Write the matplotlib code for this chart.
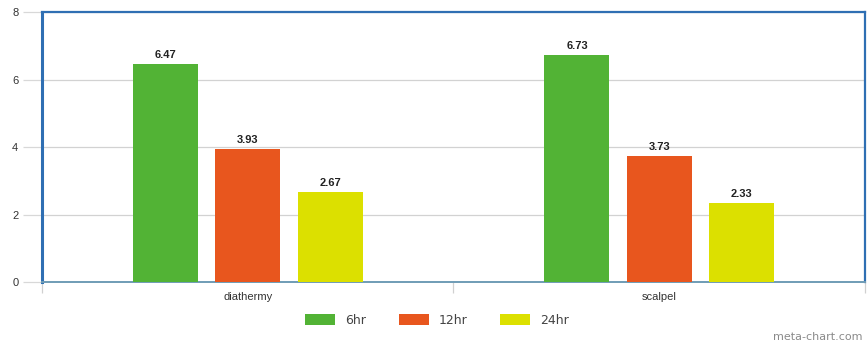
import numpy as np
import matplotlib.pyplot as plt
from matplotlib.patches import Patch

# データ
categories = ["diathermy", "scalpel"]
series_names = ["6hr", "12hr", "24hr"]
hr6 = [6.47, 6.73]
hr12 = [3.93, 3.73]
hr24 = [2.67, 2.33]
colors = ["#52b335", "#e8561e", "#dce000"]

fig = plt.figure(figsize=(8.67, 3.45), dpi=100)
ax = fig.add_axes([0.0484, 0.1826, 0.9493, 0.7826])

x = np.arange(len(categories))
width = 0.158
offsets = [-0.2, 0.0, 0.2]
for vals, off, c in zip([hr6, hr12, hr24], offsets, colors):
    bars = ax.bar(x + off, vals, width, color=c, zorder=3)
    for b, v in zip(bars, vals):
        ax.text(b.get_x() + b.get_width() / 2, v + 0.12, f"{v:.2f}",
                ha="center", va="bottom", fontsize=8, fontweight="bold",
                family="Liberation Sans", color="#222222", zorder=4)

ax.set_xlim(-0.5, 1.5)
ax.set_ylim(0, 8)
ax.set_yticks([0, 2, 4, 6, 8])
ax.set_yticklabels(["0", "2", "4", "6", "8"], fontsize=8, family="Liberation Sans",
                   color="#333333")
ax.yaxis.grid(True, color="#d2d2d2", linewidth=0.9, zorder=0)
ax.tick_params(axis="y", length=14, color="#d8d8d8", pad=3, width=0.9)

# x軸の目盛り（カテゴリ境界）
ax.set_xticks([-0.5, 0.5, 1.5])
ax.set_xticklabels([])
ax.set_xticks(x, minor=True)
ax.set_xticklabels(categories, minor=True, fontsize=8, family="Liberation Sans",
                   color="#333333")
ax.tick_params(axis="x", which="major", length=8, color="#d0d0d0", width=0.9)
ax.tick_params(axis="x", which="minor", length=0, pad=7)

for side in ["left", "top", "right"]:
    ax.spines[side].set_color("#2f6fb3")
    ax.spines[side].set_linewidth(1.6)
ax.spines["left"].set_linewidth(2.2)
ax.spines["bottom"].set_color("#6f9cb6")
ax.spines["bottom"].set_linewidth(1.4)

handles = [Patch(facecolor=c, edgecolor="none") for c in colors]
fig.legend(handles, series_names, loc="center", bbox_to_anchor=(0.504, 0.072),
           ncol=3, frameon=False, fontsize=9, handlelength=2.4, handleheight=0.9,
           columnspacing=2.6, handletextpad=0.8, labelcolor="#444444")

fig.text(0.995, 0.008, "meta-chart.com", ha="right", va="bottom", fontsize=8,
         color="#8a8a8a")

fig.savefig("out.png", dpi=100)
